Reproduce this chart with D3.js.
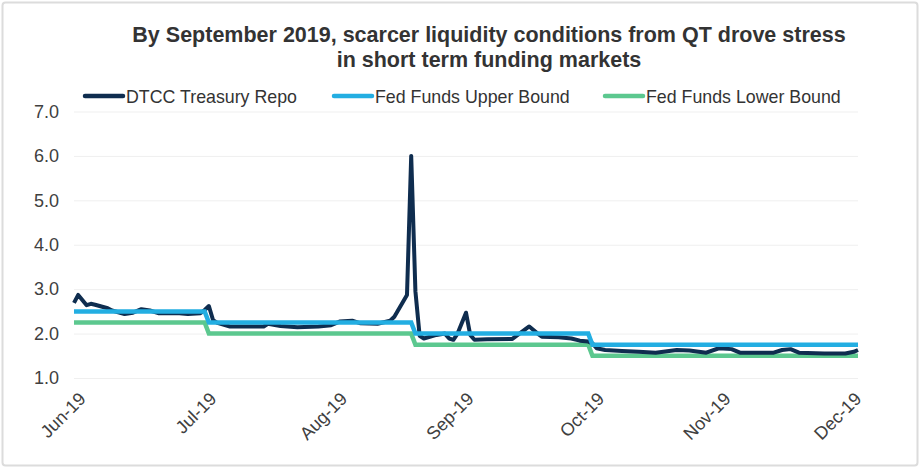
<!DOCTYPE html>
<html>
<head>
<meta charset="utf-8">
<script src="https://cdn.jsdelivr.net/npm/d3@7"></script>
<style>
  body { margin: 0; background: #fff; }
  svg { display: block; font-family: "Liberation Sans", Arial, sans-serif; }
</style>
</head>
<body>
<svg width="921" height="469"></svg>
<script>
// repo rate
var repoDates = ["2019-06-28","2019-06-29","2019-07-01","2019-07-02","2019-07-03","2019-07-06","2019-07-07",
  "2019-07-10","2019-07-12","2019-07-14","2019-07-16","2019-07-18","2019-07-20","2019-07-23","2019-07-25",
  "2019-07-28","2019-07-29","2019-07-30","2019-07-31","2019-08-01","2019-08-04","2019-08-09","2019-08-12",
  "2019-08-13","2019-08-16","2019-08-20","2019-08-25","2019-08-28","2019-08-30","2019-09-02","2019-09-04",
  "2019-09-08","2019-09-11","2019-09-12","2019-09-15","2019-09-16","2019-09-17","2019-09-18","2019-09-19",
  "2019-09-22","2019-09-24","2019-09-25","2019-09-26","2019-09-27","2019-09-29","2019-09-30","2019-10-01",
  "2019-10-04","2019-10-10","2019-10-12","2019-10-14","2019-10-16","2019-10-17","2019-10-21","2019-10-24",
  "2019-10-26","2019-10-28","2019-10-29","2019-10-30","2019-11-01","2019-11-05","2019-11-09","2019-11-13",
  "2019-11-18","2019-11-21","2019-11-25","2019-11-28","2019-12-01","2019-12-03","2019-12-08","2019-12-11",
  "2019-12-13","2019-12-15","2019-12-17","2019-12-23","2019-12-28","2019-12-30","2019-12-31"]
var repoValues = [2.69,2.87,2.64,2.67,2.65,2.57,2.52,
  2.44,2.47,2.55,2.52,2.46,2.46,2.46,2.44,
  2.46,2.53,2.62,2.30,2.24,2.16,2.16,2.16,
  2.22,2.17,2.14,2.16,2.19,2.27,2.29,2.23,
  2.22,2.29,2.38,2.87,6.00,2.95,1.95,1.89,
  1.97,2.00,1.89,1.86,2.00,2.47,1.97,1.86,
  1.87,1.88,2.02,2.16,2.00,1.93,1.92,1.89,
  1.84,1.82,1.78,1.67,1.63,1.61,1.59,1.57,
  1.63,1.62,1.57,1.67,1.65,1.57,1.57,1.57,
  1.63,1.65,1.57,1.55,1.55,1.59,1.63]

// fed funds target range (steps)
var boundDates = ["2019-06-28","2019-07-29","2019-07-30","2019-09-16","2019-09-17","2019-10-28","2019-10-29","2019-12-31"]
var upperValues = [2.50,2.50,2.25,2.25,2.00,2.00,1.75,1.75]
var lowerValues = [2.25,2.25,2.00,2.00,1.75,1.75,1.50,1.50]

var tickDates = ["2019-06-30","2019-07-31","2019-08-31","2019-09-30","2019-10-31","2019-11-30","2019-12-31"]
var tickLabels = ["Jun-19","Jul-19","Aug-19","Sep-19","Oct-19","Nov-19","Dec-19"]
var yTicks = [1, 2, 3, 4, 5, 6, 7]

var seriesNames = ["DTCC Treasury Repo", "Fed Funds Upper Bound", "Fed Funds Lower Bound"]
var seriesColors = ["#0f2d4f", "#23aee2", "#5cc88f"]

var parse = d3.timeParse("%Y-%m-%d")
var svg = d3.select("svg")

svg.append("rect")
  .attr("x", 2.5).attr("y", 2.5).attr("width", 915).attr("height", 463)
  .attr("rx", 3).attr("fill", "#fff").attr("stroke", "#dcdcdc").attr("stroke-width", 2)

var x = d3.scaleTime().domain([parse("2019-06-28"), parse("2019-12-31")]).range([74, 858])
var y = d3.scaleLinear().domain([1, 7]).range([378, 111.5])

// y axis + gridlines
var yAxis = svg.append("g")
  .attr("transform", "translate(74,0)")
  .call(d3.axisLeft(y).tickValues(yTicks).tickFormat(d3.format(".1f")).tickSize(-784).tickPadding(15))
yAxis.select(".domain").remove()
yAxis.selectAll("line").attr("stroke", "#efefef").attr("stroke-width", 1)
yAxis.selectAll("text").attr("fill", "#404040").style("font-size", "18px")

// x axis labels
var xAxis = svg.append("g")
  .attr("transform", "translate(0,378)")
  .call(d3.axisBottom(x).tickValues(tickDates.map(parse)).tickFormat((d, i) => tickLabels[i]).tickSize(0))
xAxis.select(".domain").remove()
xAxis.selectAll("text")
  .attr("fill", "#404040").style("font-size", "18px")
  .attr("text-anchor", "end")
  .attr("dy", null).attr("y", 0)
  .attr("transform", "translate(4,22) rotate(-45)")

var line = d3.line().x(d => x(d[0])).y(d => y(d[1]))

var lower = boundDates.map((d, i) => [parse(d), lowerValues[i]])
var upper = boundDates.map((d, i) => [parse(d), upperValues[i]])
var repo = repoDates.map((d, i) => [parse(d), repoValues[i]])

svg.append("path").datum(lower).attr("d", line)
  .attr("fill", "none").attr("stroke", seriesColors[2]).attr("stroke-width", 4.5)
svg.append("path").datum(repo).attr("d", line)
  .attr("fill", "none").attr("stroke", seriesColors[0]).attr("stroke-width", 4).attr("stroke-linejoin", "round")
svg.append("path").datum(upper).attr("d", line)
  .attr("fill", "none").attr("stroke", seriesColors[1]).attr("stroke-width", 4.5)

// title
var title = svg.append("text")
  .attr("text-anchor", "middle").attr("fill", "#333")
  .style("font-size", "21.5px").style("font-weight", "bold")
title.append("tspan").attr("x", 489).attr("y", 42)
  .text("By September 2019, scarcer liquidity conditions from QT drove stress")
title.append("tspan").attr("x", 489).attr("y", 67)
  .text("in short term funding markets")

// legend
var legendX = [85, 334, 605]
var legend = svg.selectAll(".legend").data(seriesNames).enter().append("g")
  .attr("class", "legend")
  .attr("transform", (d, i) => "translate(" + legendX[i] + ",96)")
legend.append("line")
  .attr("x1", 0).attr("x2", 38).attr("y1", 0).attr("y2", 0)
  .attr("stroke", (d, i) => seriesColors[i]).attr("stroke-width", 4.5).attr("stroke-linecap", "round")
legend.append("text")
  .attr("x", 41).attr("y", 6.5)
  .attr("fill", "#333").style("font-size", "17.8px")
  .text(d => d)
</script>
</body>
</html>
